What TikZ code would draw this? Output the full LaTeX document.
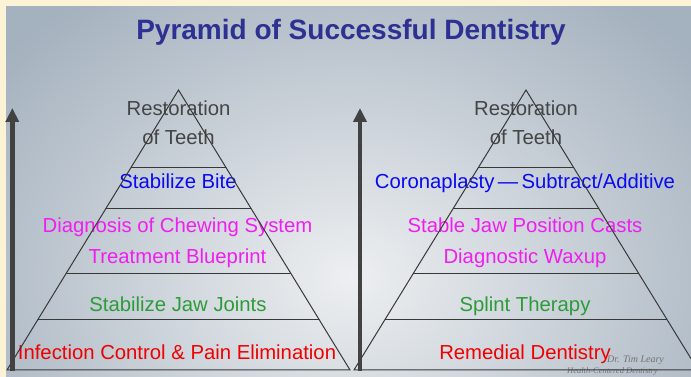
\documentclass[tikz,border=0pt]{standalone}
\usepackage{fontspec}
\setmainfont{Liberation Sans}
\newfontfamily\signfont{Liberation Serif}
\usetikzlibrary{arrows.meta, calc, positioning}

\definecolor{cream}{HTML}{FCF3D6}
\definecolor{slidelight}{HTML}{EDEFF1}
\definecolor{slidedark}{HTML}{A4B1BE}
\definecolor{titleblue}{HTML}{2E3192}
\definecolor{topgray}{HTML}{454545}
\definecolor{biteblue}{HTML}{0A0AF0}
\definecolor{planmagenta}{HTML}{F01EF0}
\definecolor{jointgreen}{HTML}{2E9B3A}
\definecolor{basered}{HTML}{F00000}
\definecolor{linegray}{HTML}{383838}

\begin{document}
\begin{tikzpicture}[x=1pt, y=1pt,
		%inner sep=0pt,
		tier/.style={anchor=base, inner sep=0pt, font=\fontsize{20.3}{24}\selectfont},
		heading/.style={anchor=base, inner sep=0pt, text=titleblue, font=\fontsize{28}{32}\selectfont\bfseries},
		signature/.style={anchor=base west, inner sep=0pt, text=black!55, font=\signfont\itshape},
		edge/.style={draw=linegray, line width=1pt},
		growth/.style={draw=linegray!95, line width=4.5pt, -{Triangle[length=14pt, width=13pt]}}
		]
	\useasboundingbox (0, 0) rectangle (691, 377);
	\fill[cream] (0, 0) rectangle (691, 377);
	\begin{scope}
		\clip (6, 0) rectangle (691, 370);
		\shade[inner color=slidelight, outer color=slidedark] (-100, -250) rectangle (800, 450);
	\end{scope}

	\node at (351, 337.5) [name=title, heading] {Pyramid of Successful Dentistry};

	\coordinate (apex 1) at (178.5, 287);
	\coordinate (left 1) at (7, 7);
	\coordinate (right 1) at (350, 7);
	\coordinate (apex 2) at (526, 287);
	\coordinate (left 2) at (354, 7);
	\coordinate (right 2) at (698, 7);

	\node at (178.5, 261) [name=restore 1, tier, text=topgray] {Restoration};
	\node at (178.5, 232) [name=teeth 1, tier, text=topgray] {of Teeth};
	\node at (178, 188) [name=bite, tier, text=biteblue] {Stabilize Bite};
	\node at (177.5, 144) [name=diagnosis, tier, text=planmagenta] {Diagnosis of Chewing System};
	\node at (177.5, 113) [name=blueprint, tier, text=planmagenta] {Treatment Blueprint};
	\node at (178, 65) [name=joints, tier, text=jointgreen] {Stabilize Jaw Joints};
	\node at (177, 17) [name=infection, tier, text=basered] {Infection Control \& Pain Elimination};

	\node at (526, 261) [name=restore 2, tier, text=topgray] {Restoration};
	\node at (526, 232) [name=teeth 2, tier, text=topgray] {of Teeth};
	\node at (525, 188) [name=coronaplasty, tier, text=biteblue] {Coronaplasty\,—\,Subtract/Additive};
	\node at (525, 144) [name=casts, tier, text=planmagenta] {Stable Jaw Position Casts};
	\node at (525, 113) [name=waxup, tier, text=planmagenta] {Diagnostic Waxup};
	\node at (525, 65) [name=splint, tier, text=jointgreen] {Splint Therapy};
	\node at (525, 17) [name=remedial, tier, text=basered] {Remedial Dentistry};

	\node at (607, 14) [name=author, signature, font=\signfont\itshape\fontsize{10}{12}\selectfont] {Dr. Tim Leary};
	\node at (567, 3) [name=practice, signature, font=\signfont\itshape\fontsize{8.5}{10}\selectfont] {Health-Centered Dentistry};

	\foreach \side in {1, 2} {
		\draw[edge] (left \side) -- (apex \side) -- (right \side) -- cycle;
		\foreach \t in {0.276, 0.425, 0.657, 0.821} {
			\draw[edge] ($(apex \side)!\t!(left \side)$) -- ($(apex \side)!\t!(right \side)$);
		}
	}

	\coordinate (foot 1) at (12.3, 6);
	\coordinate (head 1) at (12.3, 269);
	\coordinate (foot 2) at (360, 6);
	\coordinate (head 2) at (360, 269);
	\draw[growth] (foot 1) -- (head 1);
	\draw[growth] (foot 2) -- (head 2);
\end{tikzpicture}
\end{document}
